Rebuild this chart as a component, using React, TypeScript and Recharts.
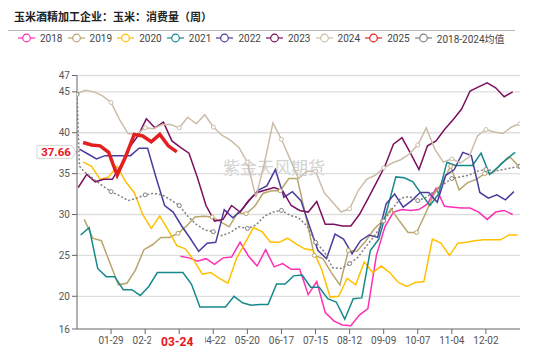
import { LineChart, Line, XAxis, YAxis, CartesianGrid } from 'recharts';

// weekly values, one array per year
const v2018 = [24.9, 24.7, 24.3, 24.6, 23.9, 24.7, 24.8, 26.6, 24.9, 23.7, 25.7, 23.6, 24.0, 23.3, 23.3, 20.2, 21.8, 18.0, 17.0, 16.5, 16.4, 17.7, 18.5, 25.0, 28.5, 30.3, 30.6, 30.5, 30.6, 31.3, 33.2, 31.0, 30.9, 30.8, 30.8, 30.3, 29.4, 30.3, 30.5, 30.0];
const v2019 = [29.4, 27.1, 26.8, 24.1, 21.4, 21.6, 23.2, 25.7, 26.3, 27.2, 27.2, 27.7, 28.6, 29.7, 29.8, 29.7, 29.1, 28.5, 30.2, 30.1, 31.0, 32.6, 32.9, 32.9, 34.4, 34.4, 29.8, 25.0, 24.6, 22.9, 21.4, 25.6, 25.5, 26.7, 28.2, 29.2, 30.7, 29.2, 27.8, 27.8, 30.0, 32.4, 33.9, 35.9, 33.0, 33.9, 34.3, 35.0, 35.1, 36.3, 37.0, 35.9];
const v2020 = [36.4, 35.9, 34.3, 34.6, 35.9, 34.0, 32.7, 30.0, 28.3, 29.8, 28.1, 26.2, 25.8, 24.4, 22.7, 22.9, 22.2, 21.6, 24.6, 26.5, 28.4, 27.9, 26.6, 26.6, 27.1, 26.4, 25.8, 25.6, 23.3, 19.9, 20.0, 22.2, 21.4, 24.2, 22.9, 23.7, 22.9, 21.7, 21.2, 21.7, 21.8, 27.0, 26.5, 25.0, 26.5, 26.6, 26.8, 26.9, 26.9, 26.9, 27.5, 27.5];
const v2021 = [27.5, 28.4, 23.4, 22.4, 22.4, 20.8, 20.8, 20.1, 21.2, 22.9, 22.9, 22.9, 22.9, 21.5, 18.7, 18.7, 18.7, 18.7, 20.0, 19.2, 18.9, 19.0, 19.0, 21.5, 21.5, 22.5, 22.6, 21.1, 21.1, 19.7, 19.3, 17.2, 19.7, 19.8, 25.6, 27.0, 30.7, 34.6, 34.5, 34.0, 32.5, 31.1, 32.5, 36.4, 36.0, 36.0, 36.0, 37.5, 34.9, 35.8, 36.8, 37.6];
const v2022 = [38.0, 37.4, 36.8, 37.2, 37.2, 37.2, 37.2, 38.1, 38.1, 34.5, 31.1, 30.3, 28.6, 27.1, 25.5, 26.5, 26.6, 30.6, 29.6, 30.5, 31.8, 33.0, 33.5, 35.5, 32.1, 32.8, 31.7, 28.6, 25.6, 24.6, 27.6, 27.0, 25.2, 26.8, 27.5, 27.2, 31.3, 32.5, 30.9, 31.7, 32.7, 32.7, 31.5, 34.8, 35.5, 37.6, 37.2, 32.7, 32.0, 32.4, 31.8, 32.8];
const v2023 = [33.3, 34.9, 34.0, 34.3, 34.3, 36.0, 38.2, 39.6, 41.7, 40.6, 41.3, 39.0, 38.2, 37.5, 34.5, 31.1, 29.2, 29.4, 31.1, 30.3, 31.7, 32.7, 33.0, 33.3, 32.9, 31.1, 30.5, 30.3, 31.6, 28.8, 28.8, 28.6, 28.6, 30.0, 31.9, 33.9, 35.9, 38.6, 39.4, 37.5, 35.5, 38.4, 39.0, 40.4, 41.6, 42.9, 45.1, 45.6, 46.1, 45.5, 44.4, 45.0];
const v2024 = [44.8, 45.2, 45.0, 44.5, 43.7, 41.6, 39.9, 39.8, 40.6, 40.5, 41.0, 41.0, 40.6, 41.9, 41.1, 42.2, 40.7, 39.7, 39.1, 38.2, 36.4, 32.1, 36.3, 41.2, 39.2, 36.8, 34.4, 35.3, 35.3, 32.7, 31.5, 30.3, 30.7, 32.9, 34.3, 34.8, 35.7, 36.3, 36.7, 37.4, 38.5, 40.6, 38.0, 36.4, 36.8, 36.3, 37.0, 39.6, 40.4, 40.1, 39.9, 40.7, 41.1];
const v2025 = [38.8, 38.5, 38.4, 37.6, 34.8, 37.1, 39.8, 39.6, 38.9, 39.8, 38.4, 37.66];
const vAvg = [35.1, 34.3, 33.5, 32.8, 32.3, 31.7, 32.0, 32.4, 32.6, 32.4, 31.8, 31.1, 29.8, 28.8, 28.1, 27.9, 27.4, 27.8, 28.5, 28.3, 28.7, 29.8, 30.3, 30.5, 29.9, 29.6, 28.6, 26.6, 25.5, 23.5, 23.4, 24.0, 24.8, 26.2, 27.5, 29.2, 30.7, 32.0, 32.2, 31.7, 32.1, 32.9, 33.7, 34.4, 34.6, 34.8, 35.3, 35.5, 35.3, 35.5, 35.7, 35.9];
const avgLeadDays = [0, 2];
const avgLeadValues = [44.7, 35.9];

// day of year (mapped onto one calendar) of each series' first week
const seriesNames = ['2018', '2019', '2020', '2021', '2022', '2023', '2024', '2025', '2018-2024均值'];
const firstDays = [85, 6, 5, 3, 2, 1, 0, 5, 7];

const tickDays = [28, 56, 84, 112, 140, 168, 196, 224, 252, 280, 308, 336];
const tickLabels = ['01-29', '02-26', '03-25', '04-22', '05-20', '06-17', '07-15', '08-12', '09-09', '10-07', '11-04', '12-02'];
const yTicks = [16, 20, 25, 30, 35, 40, 45, 47];
const latestDay = 84;
const latestLabel = '03-24';
const latestValue = 37.66;

const colors = ['#ff2fb4', '#b8a66c', '#ffc000', '#16898a', '#4b3c9e', '#7c0f5f', '#cbbca9', '#e3201f', '#808080'];
const FONT = "Roboto, 'Noto Sans CJK SC', sans-serif";
const RED = '#e8141c';

const valueLists = [v2018, v2019, v2020, v2021, v2022, v2023, v2024, v2025, vAvg];

function markAt(idx: number, d: number): boolean {
  if (idx === 6 || idx === 8) return d % 28 === 0;
  if (idx === 1) return d > 59 && (d + 1) % 28 === 0;
  return false;
}

const seriesData = valueLists.map((vals, idx) => {
  const pts = vals.map((v, i) => {
    const d = firstDays[idx] + 7 * i;
    return { d, v, mark: markAt(idx, d) };
  });
  if (idx === 8) {
    const lead = avgLeadDays.map((d, i) => ({ d, v: avgLeadValues[i], mark: d % 28 === 0 }));
    return [...lead, ...pts];
  }
  return pts;
});

function XTick(props: any) {
  const { x, y, payload } = props;
  const day = payload.value;
  if (day === latestDay) {
    return (
      <g>
        <rect x={x - 28} y={y - 1} width={54} height={15} fill="#fff" />
        <text x={x - 2} y={y + 10} textAnchor="middle" fontSize={12} fontWeight={700} fill={RED} fontFamily={FONT}>
          {latestLabel}
        </text>
      </g>
    );
  }
  const label = tickLabels[tickDays.indexOf(day)];
  return (
    <text x={x} y={y + 8} textAnchor="middle" fontSize={10} fill="#555" fontFamily={FONT}>
      {label}
    </text>
  );
}

function YTick(props: any) {
  const { x, y, payload } = props;
  if (payload.value === latestValue) {
    const pts = `${x - 33},${y - 6.5} ${x + 2},${y - 6.5} ${x + 6},${y} ${x + 2},${y + 6.5} ${x - 33},${y + 6.5}`;
    return (
      <g>
        <polygon points={pts} fill="#fff" stroke="#d6d6d6" strokeWidth={1} />
        <text x={x - 14} y={y + 4} textAnchor="middle" fontSize={11.5} fontWeight={700} fill={RED} fontFamily={FONT}>
          {latestValue}
        </text>
      </g>
    );
  }
  return (
    <text x={x} y={y + 3.5} textAnchor="end" fontSize={10} fill="#555" fontFamily={FONT}>
      {payload.value}
    </text>
  );
}

function makeDot(color: string) {
  return (props: any) => {
    const { cx, cy, payload, index } = props;
    if (!payload.mark) return <g key={index} />;
    return <circle key={index} cx={cx} cy={cy} r={2} fill="#fff" stroke={color} strokeWidth={1} />;
  };
}

function Legend() {
  return (
    <div style={{ position: 'absolute', left: 0, top: 32, width: 550, height: 14 }}>
      {seriesNames.map((name, i) => (
        <div
          key={name}
          style={{ position: 'absolute', left: 18 + 49.6 * i, top: 0, display: 'flex', alignItems: 'center', height: 12 }}
        >
          <svg width={17} height={10}>
            <line x1={0} y1={5} x2={17} y2={5} stroke={colors[i]} strokeWidth={1.2} />
            <circle cx={8.5} cy={5} r={3.8} fill="#fff" stroke={colors[i]} strokeWidth={1.2} />
          </svg>
          <span style={{ marginLeft: 5, fontSize: 10, color: '#444', fontFamily: FONT, whiteSpace: 'nowrap' }}>{name}</span>
        </div>
      ))}
    </div>
  );
}

export default function App() {
  const axisTicks = [...tickDays.filter((d) => d !== latestDay), latestDay];
  const yAxisTicks = [...yTicks, latestValue];

  return (
    <div style={{ position: 'absolute', left: 0, top: 0, width: 550, height: 349, background: '#fff', overflow: 'hidden' }}>
      <div
        style={{
          position: 'absolute',
          left: 14,
          top: 9,
          fontSize: 11,
          fontWeight: 700,
          color: '#222',
          fontFamily: "'Noto Sans CJK SC', sans-serif",
          lineHeight: '15px',
        }}
      >
        玉米酒精加工企业：玉米：消费量（周）
      </div>
      <div style={{ position: 'absolute', left: 8, top: 30, width: 507, height: 1, background: '#b5b5b5' }} />
      <Legend />
      <div
        style={{
          position: 'absolute',
          left: 223,
          top: 157,
          fontSize: 17,
          color: '#d2d2d2',
          fontFamily: "'Noto Sans CJK SC', sans-serif",
          lineHeight: '20px',
          whiteSpace: 'nowrap',
        }}
      >
        紫金天风期货
      </div>
      <div style={{ position: 'absolute', left: 0, top: 0 }}>
        <LineChart width={550} height={349} margin={{ top: 75.5, right: 30, bottom: 0, left: 0 }}>
          <CartesianGrid vertical={false} horizontalValues={[20, 25, 30, 35, 40, 45, 47]} stroke="#dedede" strokeWidth={1.3} />
          <XAxis
            dataKey="d"
            type="number"
            domain={[0, 364]}
            ticks={axisTicks}
            interval={0}
            height={20}
            tick={<XTick />}
            tickSize={5}
            tickMargin={2}
            axisLine={{ stroke: '#666' }}
            tickLine={{ stroke: '#666' }}
            allowDataOverflow
          />
          <YAxis
            type="number"
            domain={[16, 47]}
            ticks={yAxisTicks}
            interval={0}
            width={77}
            tick={<YTick />}
            tickSize={5}
            tickMargin={2}
            axisLine={{ stroke: '#666' }}
            tickLine={{ stroke: '#666' }}
            allowDataOverflow
          />
          {seriesData.map((pts, idx) => (
            <Line
              key={seriesNames[idx]}
              data={pts}
              dataKey="v"
              name={seriesNames[idx]}
              type="linear"
              stroke={colors[idx]}
              strokeWidth={idx === 7 ? 3.5 : 1.5}
              strokeDasharray={idx === 8 ? '2 2' : undefined}
              dot={makeDot(colors[idx])}
              activeDot={false}
              isAnimationActive={false}
            />
          ))}
        </LineChart>
      </div>
    </div>
  );
}
